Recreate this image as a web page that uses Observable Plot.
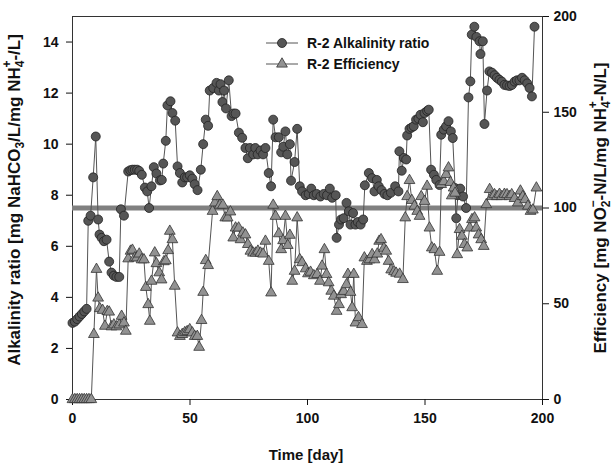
<!DOCTYPE html>
<html>
<head>
<meta charset="utf-8">
<script src="https://cdn.jsdelivr.net/npm/d3@7"></script>
<script src="https://cdn.jsdelivr.net/npm/@observablehq/plot@0.6"></script>
<style>
  html, body { margin: 0; padding: 0; background: #fff; }
</style>
</head>
<body>
<div id="chart"></div>
<script>
// ---- data ----
const alkDays = [0,1,2,3,4,5,6,6.7,7.7,8.8,9.9,10.9,11.5,12.4,13.4,14.5,15.6,16.6,17.6,18.7,19.9,20.6,21.9,23.7,24.6,25.5,26.5,27.5,28.4,29.5,30.8,31.8,32.6,33.6,34.6,35.7,37.2,38.0,38.6,39.7,40.4,41.7,42.5,43.7,44.7,45.7,46.7,47.8,48.8,49.9,51,52,53.2,54.6,55.6,56.7,57.7,58.4,59.9,61.3,62.3,63.0,63.8,64.5,65.3,66.5,67.7,68.5,69.4,70.8,72.2,73.6,74.6,75.5,76.9,77.8,78.8,80,81.1,82.1,83.5,84.5,85.4,86.4,87.8,88.8,89.7,90.6,91.4,92.5,93,94.5,95.6,96.7,97.7,99.2,100.5,101.6,102.7,103.9,105.5,106.9,108.3,109.5,110.5,112,112.4,113.4,114.3,115.4,116.6,117.6,118.3,119.4,120.4,121.4,122.6,123.7,124.4,126.1,127.5,128.5,129.5,130.3,131.5,132.8,134,135.5,137.3,138.7,139.1,140.1,141,142,142.4,143.4,144.3,145.2,146.2,147.2,148.1,149.1,149.8,150.9,151.6,152.6,153.8,154.8,156.2,156.9,158,159,160,161,161.8,162.8,163.3,164,165,166.2,167.5,168.5,169.3,169.9,171,171.9,173.2,173.6,174.6,175.3,176.4,177.4,178.5,179.6,180.6,181.7,182.7,183.8,184.9,186,187,188.1,189.1,190.2,191.3,192.4,193.5,194.5,195.5,196.6];
const alkValues = [3.0,3.05,3.15,3.25,3.35,3.45,3.55,7.0,7.2,8.7,10.3,7.05,6.46,6.33,6.2,6.26,5.4,4.97,4.85,4.8,4.8,7.45,7.2,8.93,8.98,9.0,9.0,9.0,8.95,8.8,8.3,8.15,7.5,8.35,9.1,8.85,8.58,8.6,9.24,10.13,11.52,11.68,11.22,10.92,9.13,8.87,8.5,8.7,8.7,8.78,8.65,8.43,8.2,9.0,10.0,10.96,10.72,12.1,12.2,12.4,12.1,12.35,11.65,12.1,11.4,12.5,11.1,11.2,11.2,10.45,10.25,9.85,9.45,9.85,9.6,9.85,9.6,9.75,9.6,9.85,8.87,8.35,10.96,10.27,10.27,9.68,9.9,10.5,9.6,10.0,8.57,9.3,10.6,8.35,8.15,8.0,8.05,8.26,8.0,8.05,7.95,8.05,8.0,8.26,7.9,8.0,6.33,6.85,7.05,7.1,7.7,7.37,6.85,7.3,6.85,6.95,6.85,7.05,8.39,8.87,8.67,8.15,8.6,8.35,8.2,8.05,8.0,8.1,8.35,8.15,9.72,8.96,9.46,9.4,10.34,10.6,10.65,10.7,10.96,11.0,11.15,10.86,11.22,11.3,11.35,9.0,8.8,8.6,8.4,10.37,10.57,10.7,10.9,10.5,10.24,8.28,7.1,8.0,8.26,7.95,7.5,11.83,12.46,14.29,14.6,14.2,14.03,13.53,14.03,10.79,12.1,12.85,12.8,12.7,12.6,12.52,12.45,12.32,12.3,12.28,12.32,12.45,12.5,12.5,12.6,12.5,12.38,12.2,11.87,14.6];

const effDays = [0,1,2,3,4,5,6,7,8,9.1,10.2,10.9,11.6,12.8,13.8,14.8,15.6,16.6,17.6,18.7,19.9,20.9,21.9,22.7,23.7,24.7,25.5,26.5,27.4,28.4,29.4,30.4,31.2,32.2,32.9,33.6,35,35.7,36.9,37.9,38.9,39.7,40.7,41.4,42.5,43.5,44.7,45.7,46.7,47.8,48.8,49.9,51,52,53.1,53.9,54.9,55.6,56.7,57.7,59.6,60.6,61.6,62.7,64,65,66,67.2,68.4,69.4,70.7,71.5,72.5,73.6,74.6,75.7,76.8,77.9,78.9,80,81.1,82.1,83.5,84.5,85.4,86.4,87.8,88.8,89.6,90.6,91.6,92.5,93.5,94.5,95.6,96.7,97.7,99.2,100.2,101.3,102.7,104.1,105.3,106.2,107.2,108.1,109,110.1,111.2,112.4,113.4,114.3,115.4,116.6,117.2,118.3,119,119.7,120.4,121.7,123.2,124.2,125.3,126.4,127.5,128.5,129.7,130.5,131.3,132.5,133.5,134.5,135.6,136.8,137.7,139.2,140.6,141.6,142.4,143.4,144.4,145.5,146.7,147.7,148.4,149.8,150.9,151.9,152.9,154,155.2,156.2,156.9,158,159,160,160.8,161.4,162.2,162.8,163.7,164.7,165.7,166.8,168,169,170,171.1,171.8,172.8,173.9,175,176.1,177.5,178.5,179.6,180.6,181.7,182.7,183.8,184.9,185.9,186.9,188.1,189.5,190.6,191.6,192.6,193.8,194.9,195.9,197.4];
const effValues = [0,0,0,0,0,0,0,0,0,34,68,53,47.5,46.6,38.3,46,45.7,38,39,38,39,43.5,40,35.7,73.5,77.5,78,74,74,76,73,73,58.6,49.6,40.9,61.8,76.6,71,66.2,62.5,72,72.5,77.8,87.9,83.5,59.2,34.8,33,34,35,35.5,36.5,34.8,33,33,27.3,41.3,56,72.6,70,98.3,102.7,106,101.5,101.5,94.9,94.9,98,84.4,89.6,89.6,83.5,87,86,81,77.5,76.5,76.5,77.5,76.5,76,82.7,72.2,55.7,101.5,95.7,86.6,78.3,83,95.7,80.5,85.8,61.8,67,94.9,73.1,71.5,68.3,65.7,66.5,64.7,65.3,61.8,69.7,78.3,65.3,61,56.6,54,46.1,49.6,54.8,56.5,60,65.4,56,48,65.4,40,42.8,39.2,74,72.2,73,75.7,73,76,82.7,83.5,79,77.5,72.2,67.7,66.8,66,65.5,62.7,94.9,106,114.4,104,101,98.3,95.7,106,103.5,111.4,89.6,79.2,78.3,67,76.9,112.3,113.8,117.5,121,113.4,106.4,110.5,107.8,75.7,88.8,85.3,81,79.2,89.6,94,94.9,89.6,86,83.5,80,101.8,109.7,106,107,106,107.2,106,107.2,107,106,107,105,102.7,108.9,106,104.4,101,98.3,99,110.5];

const xTicks = [0, 50, 100, 150, 200];
const alkTicks = [0, 2, 4, 6, 8, 10, 12, 14];
const effTicks = [0, 50, 100, 150, 200];
const refEfficiency = [100];
const seriesNames = ["R-2 Alkalinity ratio", "R-2 Efficiency"];

// efficiency (0-200) shares the plot with alkalinity (0-15)
const k = 15 / 200;
const alk = alkDays.map((d, i) => ({day: d, v: alkValues[i]}));
const eff = effDays.map((d, i) => ({day: d, v: effValues[i] * k}));

const chart = Plot.plot({
  width: 616,
  height: 466,
  marginLeft: 72,
  marginRight: 74,
  marginTop: 16,
  marginBottom: 67,
  x: {domain: [0, 200]},
  y: {domain: [0, 15]},
  style: {fontFamily: "'Liberation Sans', Arial, sans-serif", fontSize: "14px", fontWeight: "bold", color: "#111", background: "#fff"},
  marks: [
    Plot.frame({stroke: "#333"}),
    Plot.axisX({ticks: xTicks, tickSize: 6, tickPadding: 8, label: null}),
    Plot.axisY({anchor: "left", ticks: alkTicks, tickSize: 6, tickPadding: 8, label: null}),
    Plot.axisY({anchor: "right", ticks: effTicks.map(v => v * k), tickFormat: d => Math.round(d / k), tickSize: 6, tickPadding: 5, label: null}),
    Plot.ruleY(refEfficiency.map(v => v * k), {stroke: "#808080", strokeWidth: 5}),
    Plot.line(alk, {x: "day", y: "v", stroke: "#555", strokeWidth: 1}),
    Plot.dot(alk, {x: "day", y: "v", r: 4.5, fill: "#565656", stroke: "#222", strokeWidth: 0.8}),
    Plot.line(eff, {x: "day", y: "v", stroke: "#555", strokeWidth: 1}),
    Plot.dot(eff, {x: "day", y: "v", symbol: "triangle", r: 4, fill: "#929292", stroke: "#333", strokeWidth: 0.8})
  ]
});
document.getElementById("chart").appendChild(chart);

// ---- legend and axis titles ----
const svg = d3.select(chart);
const font = "'Liberation Sans', Arial, sans-serif";
const leg = svg.append("g").attr("font-family", font).attr("font-size", 14).attr("font-weight", "bold").attr("fill", "#111").attr("text-anchor", "start");
[0, 1].forEach(i => {
  const y = 43 + i * 21;
  leg.append("line").attr("x1", 266).attr("x2", 298).attr("y1", y).attr("y2", y).attr("stroke", "#555");
  if (i === 0) {
    leg.append("circle").attr("cx", 282).attr("cy", y).attr("r", 4.5).attr("fill", "#565656").attr("stroke", "#222").attr("stroke-width", 0.8);
  } else {
    leg.append("path").attr("transform", `translate(282,${y})`).attr("d", d3.symbol(d3.symbolTriangle, Math.PI * 16)()).attr("fill", "#929292").attr("stroke", "#333").attr("stroke-width", 0.8);
  }
  leg.append("text").attr("x", 307).attr("y", y + 5).attr("text-anchor", "start").text(seriesNames[i]);
});

function title(x, y, parts) {
  const t = svg.append("text")
    .attr("transform", `translate(${x},${y}) rotate(-90)`)
    .attr("text-anchor", "middle")
    .attr("font-family", font).attr("font-size", 17).attr("font-weight", "bold").attr("fill", "#111");
  parts.forEach(p => {
    const s = t.append("tspan").text(p.t);
    if (p.dy) s.attr("dy", p.dy);
    if (p.dx) s.attr("dx", p.dx);
    if (p.fs) s.attr("font-size", p.fs);
  });
  return t;
}
title(20, 200, [
  {t: "Alkalinity ratio [mg NaHCO"},
  {t: "3", dy: 4, fs: 12},
  {t: "/L/mg NH", dy: -4},
  {t: "4", dy: 4, fs: 12},
  {t: "+", dx: -7, dy: -13, fs: 12},
  {t: "-/L]", dy: 9}
]);
title(606, 208, [
  {t: "Efficiency [mg NO"},
  {t: "2", dy: 4, fs: 12},
  {t: "\u2212", dx: -7, dy: -13, fs: 12},
  {t: "-N/L/mg NH", dy: 9},
  {t: "4", dy: 4, fs: 12},
  {t: "+", dx: -7, dy: -13, fs: 12},
  {t: "-N/L]", dy: 9}
]);
svg.append("text").attr("x", 306).attr("y", 460).attr("text-anchor", "middle")
  .attr("font-family", font).attr("font-size", 15).attr("font-weight", "bold").attr("fill", "#111")
  .text("Time [day]");
</script>
</body>
</html>
